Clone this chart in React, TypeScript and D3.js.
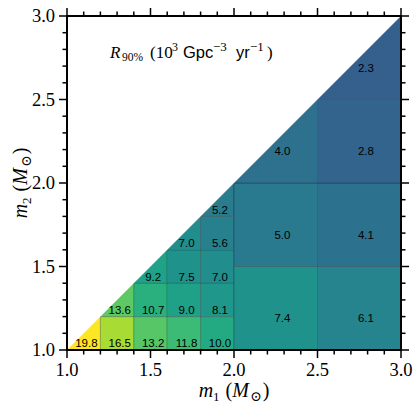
import React from 'react';
import * as d3 from 'd3';

// m1/m2 bin edges (solar masses)
const smallEdges = [1.0, 1.2, 1.4, 1.6, 1.8, 2.0];
// rows: m2 bins (small), cols: m1 bins (small); null = above diagonal
const smallRates: (number | null)[][] = [
  [19.8, 16.5, 13.2, 11.8, 10.0],
  [null, 13.6, 10.7, 9.0, 8.1],
  [null, null, 9.2, 7.5, 7.0],
  [null, null, null, 7.0, 5.6],
  [null, null, null, null, 5.2],
];
const largeM1Edges = [2.0, 2.5, 3.0];
const largeM2Edges = [1.0, 1.5, 2.0, 2.5, 3.0];
const largeRates: (number | null)[][] = [
  [7.4, 6.1],
  [5.0, 4.1],
  [4.0, 2.8],
  [null, 2.3],
];
const majorTicks = [1.0, 1.5, 2.0, 2.5, 3.0];
const tickLabels = ['1.0', '1.5', '2.0', '2.5', '3.0'];
const colorDomain = [-5.2, 19.8];

const W = 420, H = 412;
const L = 67, R = 401, T = 16, B = 350;

type Cell = { x0: number; x1: number; y0: number; y1: number; v: number };

export default function App() {
  const x = d3.scaleLinear().domain([1, 3]).range([L, R]);
  const y = d3.scaleLinear().domain([1, 3]).range([B, T]);
  const color = d3.scaleSequential(d3.interpolateViridis).domain(colorDomain as [number, number]);

  const cells: Cell[] = [];
  smallRates.forEach((row, j) =>
    row.forEach((v, i) => {
      if (v != null)
        cells.push({ x0: smallEdges[i], x1: smallEdges[i + 1], y0: smallEdges[j], y1: smallEdges[j + 1], v });
    })
  );
  largeRates.forEach((row, j) =>
    row.forEach((v, i) => {
      if (v != null)
        cells.push({ x0: largeM1Edges[i], x1: largeM1Edges[i + 1], y0: largeM2Edges[j], y1: largeM2Edges[j + 1], v });
    })
  );

  const minor = x.ticks(20);
  const serif = '"Liberation Serif", "DejaVu Serif", serif';
  const sans = '"Liberation Sans", Arial, sans-serif';

  const tri = `M${x(1)},${y(1)} L${x(3)},${y(3)} L${x(1)},${y(3)} Z`;

  const axisLabel = (sub: string) => (
    <>
      <tspan fontStyle="italic">m</tspan>
      <tspan fontSize={13} dy={4}>{sub}</tspan>
      <tspan dy={-4} dx={6}>(</tspan>
      <tspan fontStyle="italic">M</tspan>
      <tspan fontSize={14} dy={4} dx={1}>⊙</tspan>
      <tspan dy={-4} dx={1}>)</tspan>
    </>
  );

  return (
    <svg width={W} height={H} style={{ position: 'absolute', left: 0, top: 0, background: '#fff' }}>
      <g>
        {cells.map((c, k) => (
          <rect
            key={k}
            x={x(c.x0)}
            y={y(c.y1)}
            width={x(c.x1) - x(c.x0)}
            height={y(c.y0) - y(c.y1)}
            fill={color(c.v)}
            stroke="rgba(0,0,0,0.22)"
            strokeWidth={1}
          />
        ))}
      </g>
      <path d={tri} fill="#fff" />
      <g fontFamily={sans} fontSize={11.5} fill="#000">
        {cells.map((c, k) => (
          <text
            key={k}
            x={x((c.x0 + c.x1) / 2 + 0.08 * (c.x1 - c.x0))}
            y={y((c.y0 + c.y1) / 2) + 14}
            textAnchor="middle"
          >
            {c.v.toFixed(1)}
          </text>
        ))}
      </g>
      {/* spines */}
      <rect x={L} y={T} width={R - L} height={B - T} fill="none" stroke="#000" strokeWidth={2} />
      {/* ticks */}
      <g stroke="#000" strokeWidth={1.5}>
        {minor.map((t, k) => {
          const major = majorTicks.some((m) => Math.abs(m - t) < 1e-6);
          const len = major ? 8 : 4.5;
          return (
            <g key={k}>
              <line x1={x(t)} x2={x(t)} y1={B} y2={B + len} />
              <line x1={x(t)} x2={x(t)} y1={T} y2={T - len} />
              <line y1={y(t)} y2={y(t)} x1={L} x2={L - len} />
              <line y1={y(t)} y2={y(t)} x1={R} x2={R + len} />
            </g>
          );
        })}
      </g>
      <g fontFamily={serif} fontSize={18.5} fill="#000">
        {majorTicks.map((t, k) => (
          <text key={'x' + k} x={x(t)} y={B + 26} textAnchor="middle">
            {tickLabels[k]}
          </text>
        ))}
        {majorTicks.map((t, k) => (
          <text key={'y' + k} x={L - 12} y={y(t) + 6} textAnchor="end">
            {tickLabels[k]}
          </text>
        ))}
      </g>
      {/* x label */}
      <text x={(L + R) / 2} y={397} textAnchor="middle" fontFamily={serif} fontSize={20}>
        {axisLabel('1')}
      </text>
      {/* y label */}
      <text
        transform={`translate(27,${(T + B) / 2}) rotate(-90)`}
        textAnchor="middle"
        fontFamily={serif}
        fontSize={20}
      >
        {axisLabel('2')}
      </text>
      {/* annotation */}
      <g fontFamily={serif} fontSize={17} fill="#000">
        <text x={110} y={58} fontStyle="italic">R</text>
        <text x={122} y={61} fontSize={11.5}>90%</text>
        <text x={150} y={58}>(10</text>
        <text x={172} y={51} fontSize={12}>3</text>
        <text x={183} y={58} fontFamily={sans} fontSize={16.5}>Gpc</text>
        <text x={213} y={51} fontSize={13}>−3</text>
        <text x={236} y={58} fontFamily={sans} fontSize={16.5}>yr</text>
        <text x={250} y={51} fontSize={13}>−1</text>
        <text x={267} y={58}>)</text>
      </g>
    </svg>
  );
}
